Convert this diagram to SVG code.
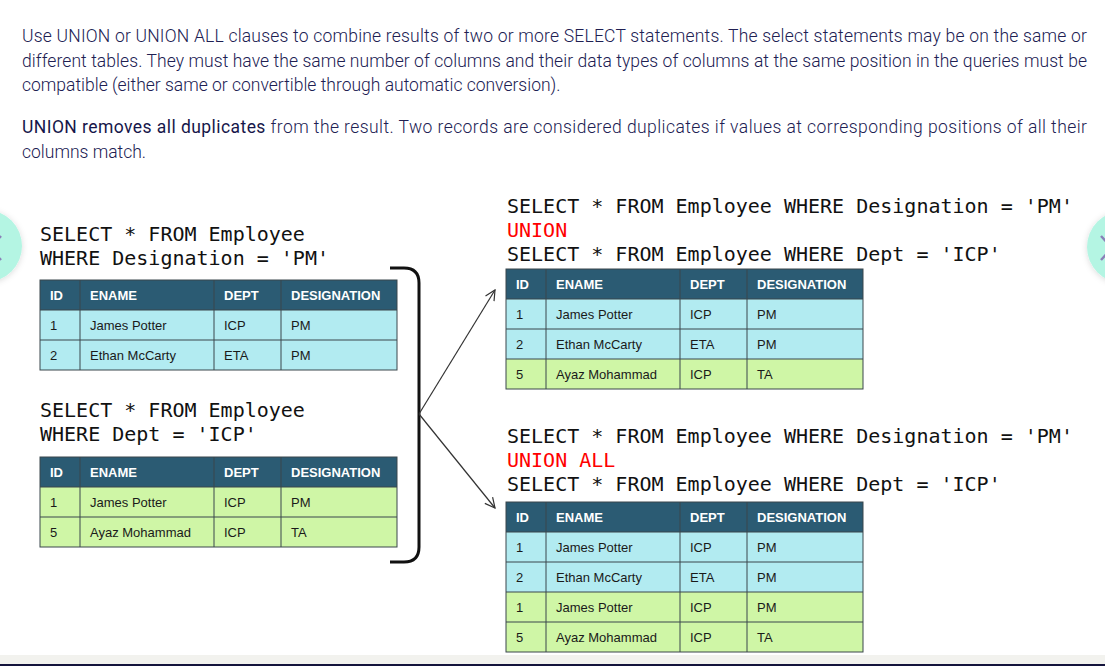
<svg xmlns="http://www.w3.org/2000/svg" width="1105" height="666" viewBox="0 0 1105 666">
<style>
.para{font-family:Roboto,"Liberation Sans",sans-serif;font-weight:300;font-size:17.5px;fill:#202052}
.b{font-weight:400;fill:#16164a}
.code{font-family:"DejaVu Sans Mono","Liberation Mono",monospace;font-size:20px;fill:#111}
.kw{fill:#ff0000}
.hdr{fill:#2b5b73}
.blue{fill:#b2ebf1}
.green{fill:#cff6a6}
.grid{stroke:#3a474c;stroke-width:1;fill:none}
.th{font-family:"Liberation Sans",Arial,sans-serif;font-weight:bold;font-size:13px;fill:#ffffff}
.td{font-family:"Liberation Sans",Arial,sans-serif;font-size:13px;fill:#1a1a1a}
.conn{stroke:#333;stroke-width:1.2;fill:none}
.chev{stroke:#8a80b8;stroke-width:2.5;fill:none}
</style>
<defs>
<marker id="arr" viewBox="0 0 12 12" refX="11" refY="6" markerWidth="12" markerHeight="12" markerUnits="userSpaceOnUse" orient="auto">
<path d="M1,1 L11,6 L1,11" fill="none" stroke="#333" stroke-width="1.2"/>
</marker>
<filter id="sh" x="-50%" y="-50%" width="200%" height="200%">
<feDropShadow dx="0" dy="1" stdDeviation="3" flood-color="#000" flood-opacity="0.15"/>
</filter>
</defs>
<rect width="1105" height="666" fill="#ffffff"/>

<g id="intro">
<text class="para" x="22" y="42" textLength="1065" lengthAdjust="spacing">Use UNION or UNION ALL clauses to combine results of two or more SELECT statements. The select statements may be on the same or</text>
<text class="para" x="22" y="66.5" textLength="1065" lengthAdjust="spacing">different tables. They must have the same number of columns and their data types of columns at the same position in the queries must be</text>
<text class="para" x="22" y="91">compatible (either same or convertible through automatic conversion).</text>
<text class="para" x="22" y="133" textLength="1065" lengthAdjust="spacing"><tspan class="b">UNION removes all duplicates</tspan> from the result. Two records are considered duplicates if values at corresponding positions of all their</text>
<text class="para" x="22" y="158">columns match.</text>
</g>

<g id="nav-left" filter="url(#sh)">
<circle cx="-14" cy="246" r="36" fill="#b4f5e3"/>
<polyline class="chev" points="1,236 -10,248 1,260"/>
</g>
<g id="nav-right" filter="url(#sh)">
<circle cx="1123" cy="247" r="36" fill="#b4f5e3"/>
<polyline class="chev" points="1101,236 1112,248 1101,260"/>
</g>

<g id="query-pm">
<text class="code" x="40" y="241">SELECT * FROM Employee</text>
<text class="code" x="40" y="265">WHERE Designation = 'PM'</text>
</g>

<g id="table-pm" transform="translate(40,280)">
<rect class="hdr" x="0" y="0" width="357" height="30"/>
<rect class="blue" x="0" y="30" width="357" height="60"/>
<rect class="grid" x="0" y="0" width="357" height="90"/>
<path class="grid" d="M0,30H357M0,60H357M40,0V90M174,0V90M241,0V90"/>
<text class="th" x="10" y="20">ID</text><text class="th" x="50" y="20">ENAME</text><text class="th" x="184" y="20">DEPT</text><text class="th" x="251" y="20">DESIGNATION</text>
<text class="td" x="10" y="50">1</text><text class="td" x="50" y="50">James Potter</text><text class="td" x="184" y="50">ICP</text><text class="td" x="251" y="50">PM</text>
<text class="td" x="10" y="80">2</text><text class="td" x="50" y="80">Ethan McCarty</text><text class="td" x="184" y="80">ETA</text><text class="td" x="251" y="80">PM</text>
</g>

<g id="query-icp">
<text class="code" x="40" y="417">SELECT * FROM Employee</text>
<text class="code" x="40" y="441">WHERE Dept = 'ICP'</text>
</g>

<g id="table-icp" transform="translate(40,457)">
<rect class="hdr" x="0" y="0" width="357" height="30"/>
<rect class="green" x="0" y="30" width="357" height="60"/>
<rect class="grid" x="0" y="0" width="357" height="90"/>
<path class="grid" d="M0,30H357M0,60H357M40,0V90M174,0V90M241,0V90"/>
<text class="th" x="10" y="20">ID</text><text class="th" x="50" y="20">ENAME</text><text class="th" x="184" y="20">DEPT</text><text class="th" x="251" y="20">DESIGNATION</text>
<text class="td" x="10" y="50">1</text><text class="td" x="50" y="50">James Potter</text><text class="td" x="184" y="50">ICP</text><text class="td" x="251" y="50">PM</text>
<text class="td" x="10" y="80">5</text><text class="td" x="50" y="80">Ayaz Mohammad</text><text class="td" x="184" y="80">ICP</text><text class="td" x="251" y="80">TA</text>
</g>

<g id="bracket">
<path d="M390,268 H404 Q419,268 419,283 V547 Q419,562 404,562 H390" fill="none" stroke="#111" stroke-width="3"/>
</g>

<g id="query-union">
<text class="code" x="507" y="213">SELECT * FROM Employee WHERE Designation = 'PM'</text>
<text class="code kw" x="507" y="237">UNION</text>
<text class="code" x="507" y="261">SELECT * FROM Employee WHERE Dept = 'ICP'</text>
</g>

<g id="table-union" transform="translate(506,269)">
<rect class="hdr" x="0" y="0" width="357" height="30"/>
<rect class="blue" x="0" y="30" width="357" height="60"/>
<rect class="green" x="0" y="90" width="357" height="30"/>
<rect class="grid" x="0" y="0" width="357" height="120"/>
<path class="grid" d="M0,30H357M0,60H357M0,90H357M40,0V120M174,0V120M241,0V120"/>
<text class="th" x="10" y="20">ID</text><text class="th" x="50" y="20">ENAME</text><text class="th" x="184" y="20">DEPT</text><text class="th" x="251" y="20">DESIGNATION</text>
<text class="td" x="10" y="50">1</text><text class="td" x="50" y="50">James Potter</text><text class="td" x="184" y="50">ICP</text><text class="td" x="251" y="50">PM</text>
<text class="td" x="10" y="80">2</text><text class="td" x="50" y="80">Ethan McCarty</text><text class="td" x="184" y="80">ETA</text><text class="td" x="251" y="80">PM</text>
<text class="td" x="10" y="110">5</text><text class="td" x="50" y="110">Ayaz Mohammad</text><text class="td" x="184" y="110">ICP</text><text class="td" x="251" y="110">TA</text>
</g>

<g id="query-union-all">
<text class="code" x="507" y="443">SELECT * FROM Employee WHERE Designation = 'PM'</text>
<text class="code kw" x="507" y="467">UNION ALL</text>
<text class="code" x="507" y="491">SELECT * FROM Employee WHERE Dept = 'ICP'</text>
</g>

<g id="table-union-all" transform="translate(506,502)">
<rect class="hdr" x="0" y="0" width="357" height="30"/>
<rect class="blue" x="0" y="30" width="357" height="60"/>
<rect class="green" x="0" y="90" width="357" height="60"/>
<rect class="grid" x="0" y="0" width="357" height="150"/>
<path class="grid" d="M0,30H357M0,60H357M0,90H357M0,120H357M40,0V150M174,0V150M241,0V150"/>
<text class="th" x="10" y="20">ID</text><text class="th" x="50" y="20">ENAME</text><text class="th" x="184" y="20">DEPT</text><text class="th" x="251" y="20">DESIGNATION</text>
<text class="td" x="10" y="50">1</text><text class="td" x="50" y="50">James Potter</text><text class="td" x="184" y="50">ICP</text><text class="td" x="251" y="50">PM</text>
<text class="td" x="10" y="80">2</text><text class="td" x="50" y="80">Ethan McCarty</text><text class="td" x="184" y="80">ETA</text><text class="td" x="251" y="80">PM</text>
<text class="td" x="10" y="110">1</text><text class="td" x="50" y="110">James Potter</text><text class="td" x="184" y="110">ICP</text><text class="td" x="251" y="110">PM</text>
<text class="td" x="10" y="140">5</text><text class="td" x="50" y="140">Ayaz Mohammad</text><text class="td" x="184" y="140">ICP</text><text class="td" x="251" y="140">TA</text>
</g>

<g id="connectors">
<line class="conn" x1="419" y1="414" x2="495" y2="290" marker-end="url(#arr)"/>
<line class="conn" x1="419" y1="414" x2="495" y2="508" marker-end="url(#arr)"/>
</g>

<g id="footer">
<rect x="0" y="655" width="1105" height="9" fill="#f2f2ee"/>
<rect x="0" y="664" width="1105" height="2" fill="#14143c"/>
</g>
</svg>
